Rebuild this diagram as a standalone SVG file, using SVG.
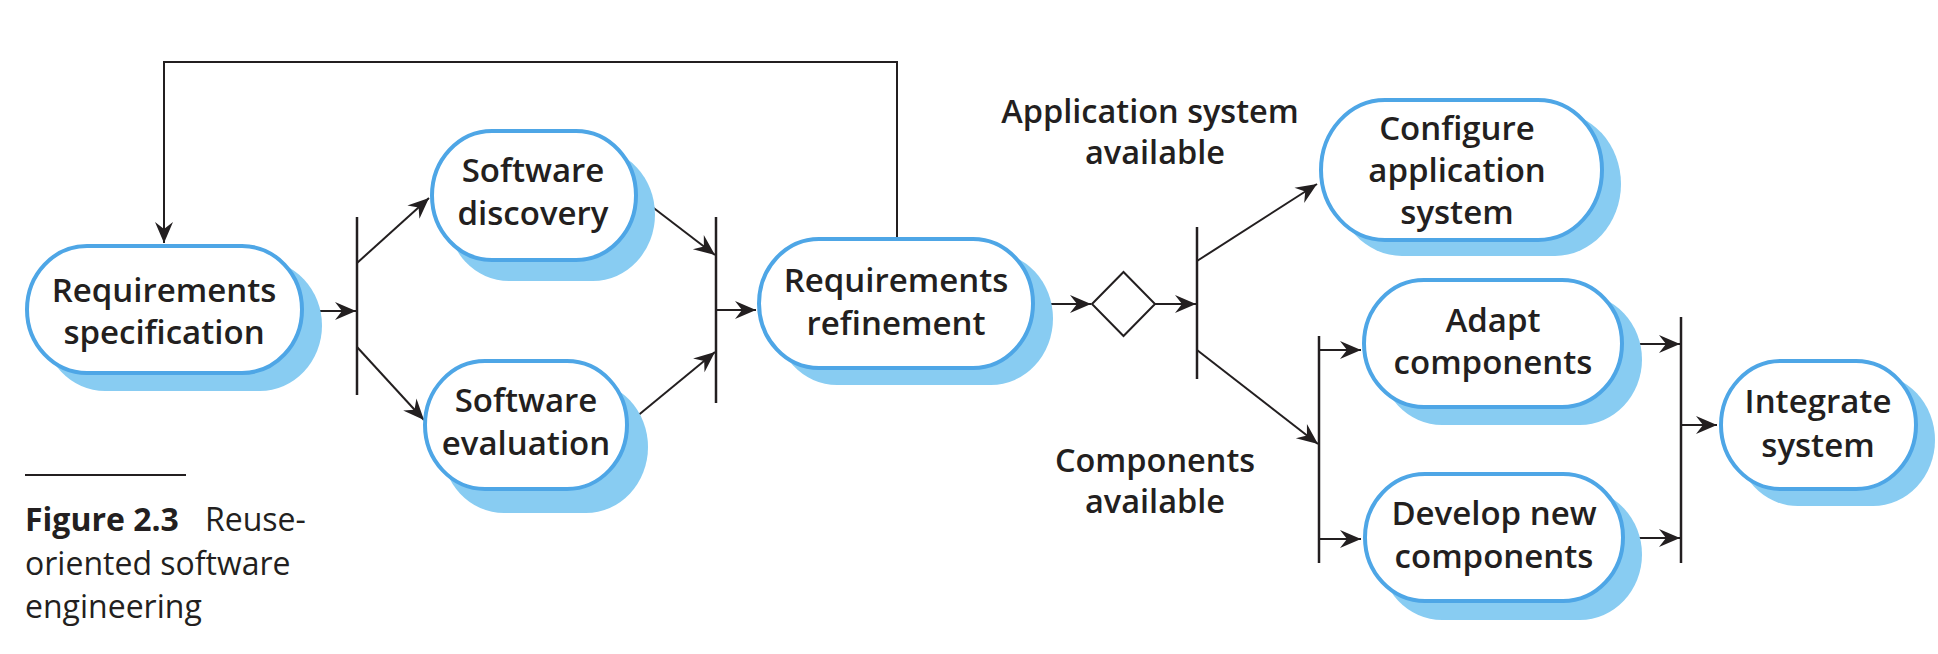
<svg xmlns="http://www.w3.org/2000/svg" width="1938" height="654" viewBox="0 0 1938 654">
<style>
.sh{fill:#88ccf2;stroke:none}
.bx{fill:#ffffff;stroke:#4ea6e6;stroke-width:4}
.t{font-family:"Open Sans","Noto Sans","Liberation Sans",sans-serif;font-size:33px;font-weight:600;fill:#231f20;text-anchor:middle}
.lb{font-family:"Open Sans","Noto Sans","Liberation Sans",sans-serif;font-size:32.5px;font-weight:600;fill:#231f20;text-anchor:middle}
.cap{font-family:"Open Sans","Noto Sans","Liberation Sans",sans-serif;font-size:32px;font-weight:400;fill:#231f20}
.ln{fill:none;stroke:#231f20;stroke-width:2}
.bar{fill:none;stroke:#231f20;stroke-width:2.5}
.ar{fill:none;stroke:#231f20;stroke-width:2;marker-end:url(#ah)}
</style>
<defs>
<marker id="ah" markerUnits="userSpaceOnUse" viewBox="-22 -11 24 22" markerWidth="24" markerHeight="22" refX="0" refY="0" orient="auto">
<path d="M0,0 L-21,-9 L-14,0 L-21,9 Z" fill="#231f20"/>
</marker>
</defs>
<rect width="1938" height="654" fill="#ffffff"/>

<g id="connectors">
<path class="ar" d="M897,237 V62 H164 V243"/>
<path class="ar" d="M306,311 H356"/>
<line class="bar" x1="357" y1="217" x2="357" y2="395"/>
<path class="ar" d="M357,263 L429,198"/>
<path class="ar" d="M357,347 L424,420"/>
<path class="ar" d="M638,196 L715,255"/>
<path class="ar" d="M630,422 L715,352"/>
<line class="bar" x1="716" y1="217" x2="716" y2="403"/>
<path class="ar" d="M716,310 H756"/>
<path class="ar" d="M1037,304 H1091"/>
<polygon class="ln" points="1092,304 1123.5,272 1155,304 1123.5,336"/>
<path class="ar" d="M1155,304 H1196"/>
<line class="bar" x1="1197" y1="227" x2="1197" y2="379"/>
<path class="ar" d="M1197,261 L1317,184"/>
<path class="ar" d="M1197,350 L1318,444"/>
<line class="bar" x1="1319" y1="336" x2="1319" y2="563"/>
<path class="ar" d="M1319,350 H1361"/>
<path class="ar" d="M1319,539 H1361"/>
<path class="ar" d="M1626,344 H1680"/>
<path class="ar" d="M1627,538 H1680"/>
<line class="bar" x1="1681" y1="317" x2="1681" y2="563"/>
<path class="ar" d="M1681,425 H1717"/>
</g>

<g id="req-spec">
<rect class="sh" x="43" y="260" width="279" height="131" rx="62" ry="65.5"/>
<rect class="bx" x="27" y="246" width="275" height="127" rx="60" ry="63.5"/>
<text class="t" x="164" y="302">Requirements</text>
<text class="t" x="164" y="344">specification</text>
</g>

<g id="sw-discovery">
<rect class="sh" x="447" y="148" width="208" height="133" rx="62" ry="66.5"/>
<rect class="bx" x="432" y="131" width="204" height="129" rx="60" ry="64.5"/>
<text class="t" x="533" y="182">Software</text>
<text class="t" x="533" y="225">discovery</text>
</g>

<g id="sw-evaluation">
<rect class="sh" x="442" y="381" width="206" height="132" rx="62" ry="66"/>
<rect class="bx" x="425" y="361" width="202" height="128" rx="60" ry="64"/>
<text class="t" x="526" y="412">Software</text>
<text class="t" x="526" y="455">evaluation</text>
</g>

<g id="req-refinement">
<rect class="sh" x="775" y="252" width="278" height="133" rx="62" ry="66.5"/>
<rect class="bx" x="759" y="239" width="274" height="129" rx="60" ry="64.5"/>
<text class="t" x="896" y="292">Requirements</text>
<text class="t" x="896" y="335">refinement</text>
</g>

<g id="configure">
<rect class="sh" x="1336" y="112" width="285" height="144" rx="66" ry="72"/>
<rect class="bx" x="1321" y="100" width="281" height="140" rx="64" ry="70"/>
<text class="t" x="1457" y="140">Configure</text>
<text class="t" x="1457" y="182">application</text>
<text class="t" x="1457" y="224">system</text>
</g>

<g id="adapt">
<rect class="sh" x="1380" y="294" width="262" height="131" rx="62" ry="65.5"/>
<rect class="bx" x="1364" y="280" width="258" height="127" rx="60" ry="63.5"/>
<text class="t" x="1493" y="332">Adapt</text>
<text class="t" x="1493" y="374">components</text>
</g>

<g id="develop">
<rect class="sh" x="1380" y="489" width="262" height="131" rx="62" ry="65.5"/>
<rect class="bx" x="1365" y="474" width="258" height="127" rx="60" ry="63.5"/>
<text class="t" x="1494" y="525">Develop new</text>
<text class="t" x="1494" y="568">components</text>
</g>

<g id="integrate">
<rect class="sh" x="1736" y="374" width="199" height="132" rx="62" ry="66"/>
<rect class="bx" x="1721" y="361" width="195" height="128" rx="60" ry="64"/>
<text class="t" x="1818" y="413">Integrate</text>
<text class="t" x="1818" y="457">system</text>
</g>

<g id="labels">
<text class="lb" x="1150" y="123">Application system</text>
<text class="lb" x="1155" y="164">available</text>
<text class="lb" x="1155" y="472">Components</text>
<text class="lb" x="1155" y="513">available</text>
</g>

<g id="caption">
<line x1="25" y1="475" x2="186" y2="475" stroke="#231f20" stroke-width="2"/>
<text class="cap" x="25" y="531"><tspan font-weight="bold">Figure 2.3</tspan><tspan x="205">Reuse-</tspan></text>
<text class="cap" x="25" y="575">oriented software</text>
<text class="cap" x="25" y="618">engineering</text>
</g>
</svg>
